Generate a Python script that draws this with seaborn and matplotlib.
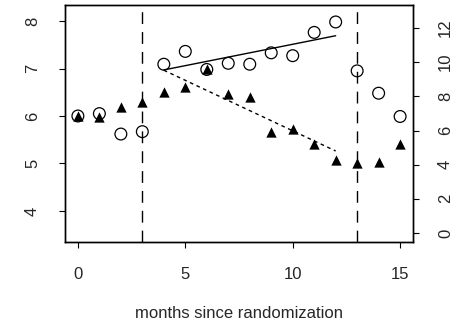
import matplotlib
matplotlib.use("Agg")
import matplotlib.pyplot as plt
import seaborn as sns
import pandas as pd

# --- data ---
months = list(range(16))
circles = [6.00, 6.05, 5.62, 5.67, 7.09, 7.36, 6.98, 7.11, 7.09, 7.33,
           7.27, 7.76, 7.98, 6.95, 6.48, 5.99]           # left axis
triangles = [6.84, 6.80, 7.39, 7.68, 8.26, 8.56, 9.59, 8.13, 7.94, 5.92,
             6.08, 5.20, 4.27, 4.08, 4.17, 5.19]         # right axis
fit_x = [4, 12]
fit_circles = [6.97, 7.69]
fit_triangles = [9.53, 4.80]
cut_months = [3, 13]
left_ticks = [4, 5, 6, 7, 8]
right_ticks = [0, 2, 4, 6, 8, 10, 12]
x_ticks = [0, 5, 10, 15]

df = pd.DataFrame({"month": months, "circ": circles, "tri": triangles})

sns.set_theme(style="white")
plt.rcParams["font.family"] = ["Liberation Sans", "DejaVu Sans"]
plt.rcParams["lines.scale_dashes"] = False

fig = plt.figure(figsize=(4.68, 3.28), dpi=100)
ax = fig.add_axes([65 / 468, 1 - 242 / 328, 348 / 468, 237 / 328])
ax2 = ax.twinx()

# circles on the left scale
sns.scatterplot(data=df, x="month", y="circ", ax=ax, marker="o", s=72,
                facecolors="none", edgecolor="black", linewidth=0.9, zorder=3)
sns.lineplot(x=fit_x, y=fit_circles, ax=ax, color="black", lw=1.0)

# triangles on the right scale
sns.scatterplot(data=df, x="month", y="tri", ax=ax2, marker="^", s=55,
                color="black", edgecolor="black", linewidth=0, zorder=3)
sns.lineplot(x=fit_x, y=fit_triangles, ax=ax2, color="black", lw=1.0,
             dashes=False, linestyle=(0, (2.6, 2.6)))

for m in cut_months:
    ax.axvline(m, color="black", lw=1.0, linestyle=(0, (8.5, 5.8)))

ax.set_xlim(-0.6, 15.6)
ax.set_ylim(3.347, 8.337)
ax2.set_ylim(-0.53, 13.35)

ax.set_xticks(x_ticks)
ax.set_yticks(left_ticks)
ax2.set_yticks(right_ticks)
ax.set_ylabel("")
ax2.set_ylabel("")
ax.set_xlabel("months since randomization", fontsize=12, labelpad=17)

ax.tick_params(axis="both", which="major", direction="out", length=4.5,
               width=0.8, color="black", labelsize=12, pad=13.5,
               bottom=True, left=True)
ax2.tick_params(axis="y", direction="out", length=4.5, width=0.8,
                color="black", labelsize=12, pad=13.5, right=True)

for lab in ax.get_yticklabels():
    lab.set_rotation(90)
    lab.set_va("center")
for lab in ax2.get_yticklabels():
    lab.set_rotation(90)
    lab.set_va("center")

for a in (ax, ax2):
    for sp in a.spines.values():
        sp.set_color("black")
        sp.set_linewidth(1.0)

if ax.get_legend():
    ax.get_legend().remove()

fig.savefig("out.png", dpi=100, facecolor="white")
plt.close(fig)
